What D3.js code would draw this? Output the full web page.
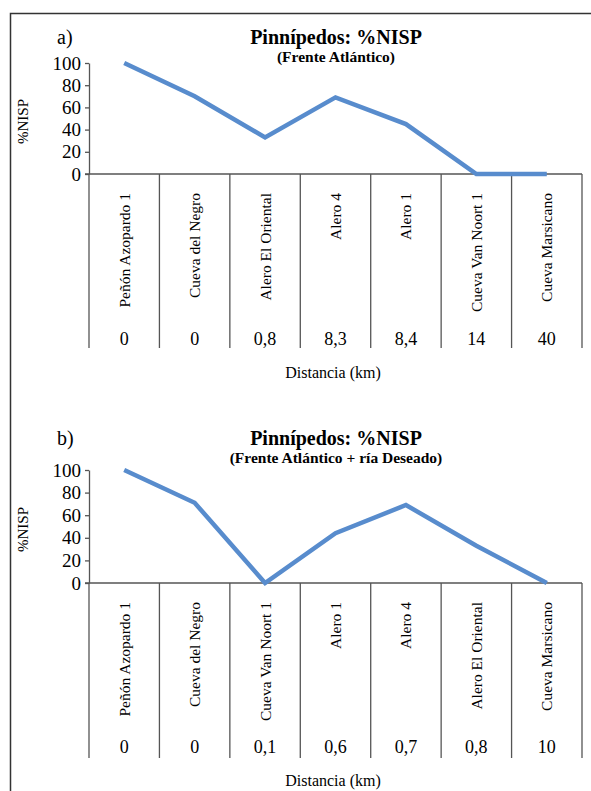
<!DOCTYPE html>
<html>
<head>
<meta charset="utf-8">
<script src="https://cdn.jsdelivr.net/npm/d3@7"></script>
<style>
  body { margin: 0; background: #fff; }
  svg text { font-family: "Liberation Serif", "Times New Roman", serif; fill: #000; }
</style>
</head>
<body>
<div id="chart"></div>
<script>
// Panel a data
const sitesA = ["Peñón Azopardo 1", "Cueva del Negro", "Alero El Oriental", "Alero 4", "Alero 1", "Cueva Van Noort 1", "Cueva Marsicano"];
const nispA = [100, 70, 33, 69, 45, 0, 0];
const distA = ["0", "0", "0,8", "8,3", "8,4", "14", "40"];

// Panel b data
const sitesB = ["Peñón Azopardo 1", "Cueva del Negro", "Cueva Van Noort 1", "Alero 1", "Alero 4", "Alero El Oriental", "Cueva Marsicano"];
const nispB = [100, 71, 0, 44, 69, 33, 0];
const distB = ["0", "0", "0,1", "0,6", "0,7", "0,8", "10"];

const yTicks = [0, 20, 40, 60, 80, 100];

const W = 591, H = 791;
const svg = d3.select("#chart").append("svg")
    .attr("width", W)
    .attr("height", H);

// outer frame
svg.append("rect")
    .attr("x", 10.5).attr("y", 13.5)
    .attr("width", W + 20).attr("height", H + 20)
    .attr("fill", "none")
    .attr("stroke", "#333")
    .attr("stroke-width", 1.5);

const axisColor = "#555";
const lineColor = "#588CCD";

function drawPanel(opts) {
    const g = svg.append("g");
    const x = d3.scaleBand().domain(opts.sites).range([89, 582]).padding(0);
    const y = d3.scaleLinear().domain([0, 100]).range([opts.y0, opts.y100]);

    // letter + titles
    g.append("text")
        .attr("x", 57).attr("y", opts.titleY)
        .style("font-size", "20px")
        .text(opts.letter);
    g.append("text")
        .attr("x", 336).attr("y", opts.titleY)
        .attr("text-anchor", "middle")
        .style("font-size", "20px").style("font-weight", "bold")
        .text("Pinnípedos: %NISP");
    g.append("text")
        .attr("x", 336).attr("y", opts.titleY + 18)
        .attr("text-anchor", "middle")
        .style("font-size", "15.5px").style("font-weight", "bold")
        .text(opts.subtitle);

    // y axis
    const yAxis = g.append("g")
        .attr("transform", "translate(89,0)")
        .call(d3.axisLeft(y).tickValues(yTicks).tickSize(4).tickSizeOuter(0).tickPadding(4));
    yAxis.select(".domain").attr("stroke", axisColor).attr("stroke-width", 1.3);
    yAxis.selectAll(".tick line").attr("stroke", axisColor).attr("stroke-width", 1.3);
    yAxis.selectAll(".tick text")
        .style("font-family", "Liberation Serif, serif")
        .style("font-size", "19px")
        .attr("fill", "#000");

    g.append("text")
        .attr("transform", `translate(28,${(opts.y0 + opts.y100) / 2 + 3}) rotate(-90)`)
        .attr("text-anchor", "middle")
        .style("font-size", "15px")
        .text("%NISP");

    // category axis: baseline and separators
    g.append("line")
        .attr("x1", 85).attr("x2", 582)
        .attr("y1", opts.y0).attr("y2", opts.y0)
        .attr("stroke", axisColor).attr("stroke-width", 1.3);
    const edges = opts.sites.map(s => x(s)).concat([x.range()[1]]);
    g.selectAll(".sep")
        .data(edges)
        .enter().append("line")
        .attr("class", "sep")
        .attr("x1", d => d).attr("x2", d => d)
        .attr("y1", opts.y0).attr("y2", opts.yBottom)
        .attr("stroke", axisColor).attr("stroke-width", 1.3);

    // rotated site names
    g.selectAll(".site")
        .data(opts.sites)
        .enter().append("text")
        .attr("class", "site")
        .attr("transform", d => `translate(${x(d) + x.bandwidth() / 2},${opts.y0 + 19}) rotate(-90)`)
        .attr("text-anchor", "end")
        .attr("dy", "0.35em")
        .style("font-size", "15.5px")
        .text(d => d);

    // distances
    g.selectAll(".dist")
        .data(opts.dist)
        .enter().append("text")
        .attr("class", "dist")
        .attr("x", (d, i) => x(opts.sites[i]) + x.bandwidth() / 2)
        .attr("y", opts.y0 + opts.distOff)
        .attr("text-anchor", "middle")
        .style("font-size", "18px")
        .text(d => d);

    g.append("text")
        .attr("x", 333).attr("y", opts.y0 + opts.xTitleOff)
        .attr("text-anchor", "middle")
        .style("font-size", "16px")
        .text("Distancia (km)");

    // data line
    const line = d3.line()
        .x((d, i) => x(opts.sites[i]) + x.bandwidth() / 2)
        .y(d => y(d));
    g.append("path")
        .datum(opts.values)
        .attr("d", line)
        .attr("fill", "none")
        .attr("stroke", lineColor)
        .attr("stroke-width", 4.5)
        .attr("stroke-linejoin", "miter");
}

drawPanel({
    sites: sitesA, values: nispA, dist: distA,
    letter: "a)", subtitle: "(Frente Atlántico)",
    titleY: 44, y100: 63, y0: 174, yBottom: 348,
    distOff: 171, xTitleOff: 204
});

drawPanel({
    sites: sitesB, values: nispB, dist: distB,
    letter: "b)", subtitle: "(Frente Atlántico + ría Deseado)",
    titleY: 445, y100: 470, y0: 583, yBottom: 758,
    distOff: 170, xTitleOff: 203
});
</script>
</body>
</html>
